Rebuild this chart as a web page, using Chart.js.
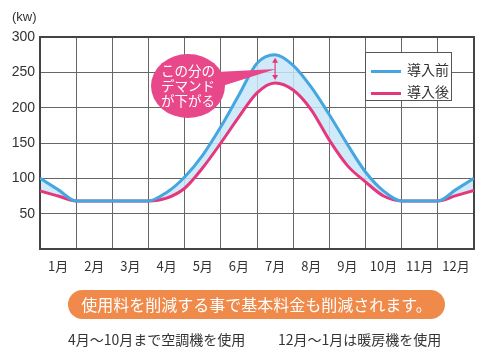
<!DOCTYPE html>
<html><head><meta charset="utf-8">
<script src="https://cdn.jsdelivr.net/npm/chart.js@4/dist/chart.umd.min.js"></script>
<style>
html,body{margin:0;padding:0;background:#fff;}
#wrap{position:relative;width:500px;height:352px;overflow:hidden;font-family:"Noto Sans CJK JP","Noto Sans",sans-serif;color:#333;}
canvas{position:absolute;left:0;top:0;}
#unit{position:absolute;left:12px;top:9px;font-size:13px;font-family:"Liberation Sans","Noto Sans",sans-serif;}
#bubble{position:absolute;left:0;top:0;pointer-events:none;}
#btext{position:absolute;left:150px;top:63px;width:76px;text-align:center;color:#fff;font-size:13.5px;line-height:15px;}
#legend{position:absolute;left:365px;top:52px;width:87px;height:49px;border:1px solid #555;background:#fff;box-sizing:border-box;}
.li{position:absolute;left:5px;height:16px;}
.li i{position:absolute;left:0;top:7px;width:30px;height:3px;}
.li span{position:absolute;left:36px;top:-4px;font-size:14px;white-space:nowrap;color:#333;}
#banner{position:absolute;left:68px;top:290px;width:377px;height:29px;border-radius:15px;background:#ef8a4b;color:#fff;font-size:16px;line-height:29px;text-align:center;}
.note{position:absolute;top:329px;font-size:14px;white-space:nowrap;color:#333;}
</style></head><body>
<div id="wrap">
<canvas id="c" width="500" height="352"></canvas>
<div id="unit">(kw)</div>
<svg id="bubble" width="500" height="352"><polygon points="216,72 276,69 219,87" fill="#e8488a"/><ellipse cx="188" cy="86" rx="37" ry="32" fill="#e8488a"/></svg>
<div id="btext">この分の<br>デマンド<br>が下がる</div>
<div id="legend"></div>
<div id="banner">使用料を削減する事で基本料金も削減されます。</div>
<div class="note" style="left:68px">4月〜10月まで空調機を使用</div>
<div class="note" style="left:278px">12月〜1月は暖房機を使用</div>
</div>
<script>
const months = ['1月','2月','3月','4月','5月','6月','7月','8月','9月','10月','11月','12月'];
const yTicks = [0,50,100,150,200,250,300];
const xPos   = [0,0.5,1,2,3,3.5,4,4.5,5,5.5,6,6.5,7,7.5,8,8.5,9,9.5,10,11,11.5,12];
const before = [100,84,68,68,68,80,102,133,173,218,263,275,260,229,190,148,109,82,68,68,84,100];
const after  = [82,75,68,68,68,72,86,115,150,187,221,235,225,197,154,118,95,75,68,68,75.5,83];
const peakX = 6.5;

const blue = '#45a6e0', pink = '#e5387c';
const pts = arr => xPos.map((x,i)=>({x:x,y:arr[i]}));

const frame = {
  id:'frame',
  beforeDatasetsDraw(chart){
    const {ctx, chartArea:a} = chart;
    ctx.save();
    ctx.strokeStyle='#444'; ctx.lineWidth=2;
    ctx.strokeRect(a.left, a.top, a.right-a.left, a.bottom-a.top);
    ctx.restore();
  },
  afterDatasetsDraw(chart){
    const {ctx, scales:{x,y}} = chart;
    const i = xPos.indexOf(peakX);
    const px = x.getPixelForValue(peakX);
    const y1 = y.getPixelForValue(before[i]) + 3;
    const y2 = y.getPixelForValue(after[i]) - 3;
    ctx.save();
    ctx.strokeStyle = pink; ctx.fillStyle = pink; ctx.lineWidth = 1.2;
    ctx.beginPath(); ctx.moveTo(px, y1+3); ctx.lineTo(px, y2-3); ctx.stroke();
    ctx.beginPath(); ctx.moveTo(px, y1); ctx.lineTo(px-3, y1+5); ctx.lineTo(px+3, y1+5); ctx.closePath(); ctx.fill();
    ctx.beginPath(); ctx.moveTo(px, y2); ctx.lineTo(px-3, y2-5); ctx.lineTo(px+3, y2-5); ctx.closePath(); ctx.fill();
    ctx.restore();
  }
};

const chart = new Chart(document.getElementById('c'), {
  type:'line',
  data:{datasets:[
    {label:'導入前', data:pts(before), borderColor:blue, borderWidth:3, pointRadius:0, cubicInterpolationMode:'monotone', fill:'+1', backgroundColor:'rgba(200,230,248,0.85)'},
    {label:'導入後', data:pts(after), borderColor:pink, borderWidth:3, pointRadius:0, cubicInterpolationMode:'monotone', fill:false}
  ]},
  options:{
    responsive:false, animation:false, devicePixelRatio:1,
    layout:{padding:{left:0,top:37,right:26,bottom:73}},
    plugins:{legend:{display:false}, tooltip:{enabled:false}, filler:{drawTime:'beforeDatasetsDraw'}},
    scales:{
      x:{type:'linear', min:0, max:12,
        afterBuildTicks(s){ const t=[]; for(let v=0; v<=24; v++) t.push({value:v/2}); s.ticks=t; },
        ticks:{autoSkip:false, maxRotation:0, color:'#333', padding:9,
          font:{size:13, family:'"Noto Sans CJK JP", sans-serif'},
          callback:(v)=> (v%1) ? months[Math.floor(v)] : ''},
        grid:{drawTicks:false, lineWidth:1, color:c=> (c.tick && c.tick.value%1===0) ? '#666' : 'rgba(0,0,0,0)'},
        border:{display:false},
        afterFit(s){ s.height = 30; }
      },
      y:{min:0, max:300,
        afterBuildTicks(s){ s.ticks = yTicks.map(v=>({value:v})); },
        ticks:{color:'#333', padding:5, font:{size:14, family:'"Liberation Sans", Arial, sans-serif'},
          callback:v=> v===0 ? '' : String(v)},
        grid:{drawTicks:false, color:'#666', lineWidth:1},
        border:{display:false},
        afterFit(s){ s.width = 40; }
      }
    }
  },
  plugins:[frame]
});

const lg = document.getElementById('legend');
chart.data.datasets.forEach((d,i)=>{
  const el = document.createElement('div');
  el.className='li'; el.style.top = (10 + i*22) + 'px';
  el.innerHTML = '<i style="background:'+d.borderColor+'"></i><span>'+d.label+'</span>';
  lg.appendChild(el);
});
</script>
</body></html>
